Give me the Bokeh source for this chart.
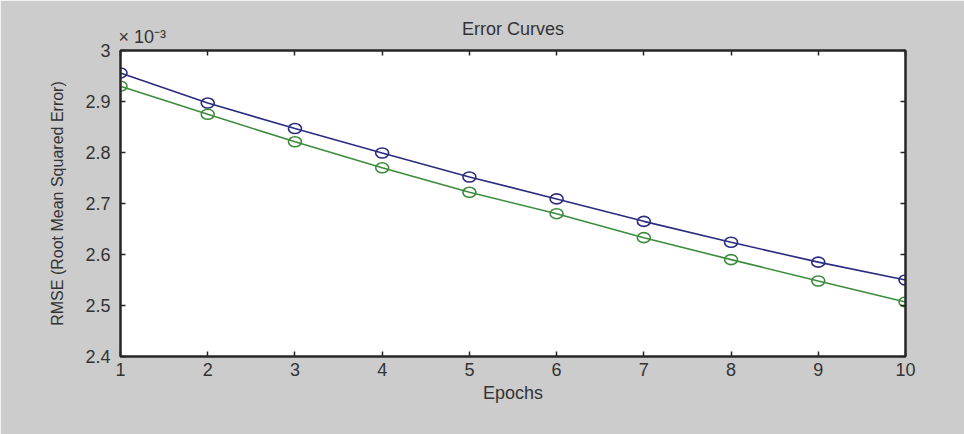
from bokeh.plotting import figure
from bokeh.models import FixedTicker, LinearAxis, Title, Range1d, CustomJSTickFormatter
from bokeh.embed import file_html
from bokeh.resources import INLINE

# Data (RMSE in units of 1e-3)
epochs = [1, 2, 3, 4, 5, 6, 7, 8, 9, 10]
rmse_blue = [2.956, 2.897, 2.847, 2.799, 2.752, 2.709, 2.665, 2.624, 2.585, 2.550]
rmse_green = [2.930, 2.875, 2.821, 2.770, 2.722, 2.680, 2.633, 2.590, 2.548, 2.507]
x_ticks = [1, 2, 3, 4, 5, 6, 7, 8, 9, 10]
y_ticks = [2.4, 2.5, 2.6, 2.7, 2.8, 2.9, 3.0]

FONT = "Liberation Sans"
AX = "#262626"
TXT = "#333333"
BLUE = "#2b2b80"
GREEN = "#3d8c3d"

p = figure(width=964, height=434, output_backend="svg", toolbar_location=None,
           x_range=Range1d(1, 10), y_range=Range1d(2.4, 3.0),
           min_border_left=120, min_border_right=59, min_border_top=50, min_border_bottom=78,
           background_fill_color="white", border_fill_color="#cccccc",
           outline_line_color=AX, outline_line_width=2)
p.xgrid.visible = False
p.ygrid.visible = False

ytick_fmt = CustomJSTickFormatter(code="return tick.toFixed(1).replace(/\\.0$/, '');")
blank_fmt = CustomJSTickFormatter(code="return '';")

def style(ax):
    ax.axis_line_color = AX
    ax.axis_line_width = 2
    ax.major_tick_line_color = AX
    ax.major_tick_line_width = 1.5
    ax.major_tick_in = 5
    ax.major_tick_out = 0
    ax.minor_tick_line_color = None
    ax.major_label_text_font = FONT
    ax.major_label_text_font_size = "18px"
    ax.major_label_text_color = TXT
    ax.axis_label_text_font = FONT
    ax.axis_label_text_font_style = "normal"
    ax.axis_label_text_color = TXT

xa = p.xaxis[0]
xa.ticker = FixedTicker(ticks=x_ticks)
style(xa)
xa.axis_label = "Epochs"
xa.axis_label_text_font_size = "18px"
xa.major_label_standoff = 6
xa.axis_label_standoff = 4

ya = p.yaxis[0]
ya.ticker = FixedTicker(ticks=y_ticks)
ya.formatter = ytick_fmt
style(ya)
ya.axis_label = "RMSE (Root Mean Squared Error)"
ya.axis_label_text_font_size = "16px"
ya.major_label_standoff = 10
ya.axis_label_standoff = 16

top = LinearAxis(ticker=FixedTicker(ticks=x_ticks), formatter=blank_fmt)
style(top)
top.major_label_standoff = 0
p.add_layout(top, "above")
right = LinearAxis(ticker=FixedTicker(ticks=y_ticks), formatter=blank_fmt)
style(right)
right.major_label_standoff = 0
p.add_layout(right, "right")

# Exponent marker above the y axis
p.add_layout(Title(text="× 10⁻³", align="left", offset=-2, standoff=8, vertical_align="bottom",
                   text_font=FONT, text_font_size="18px", text_font_style="normal",
                   text_color=TXT), "above")

# Main title
p.title.text = "Error Curves"
p.title.align = "center"
p.title.text_font = FONT
p.title.text_font_size = "18px"
p.title.text_font_style = "normal"
p.title.text_color = TXT
p.title.standoff = -36

p.line(epochs, rmse_blue, line_color=BLUE, line_width=1.6)
p.line(epochs, rmse_green, line_color=GREEN, line_width=1.6)
p.ellipse(x=epochs, y=rmse_blue, width=13, height=10, width_units="screen", height_units="screen",
          fill_color=None, line_color=BLUE, line_width=1.6)
p.ellipse(x=epochs, y=rmse_green, width=13, height=10, width_units="screen", height_units="screen",
          fill_color=None, line_color=GREEN, line_width=1.6)

open("out.html", "w").write(file_html(p, INLINE))
